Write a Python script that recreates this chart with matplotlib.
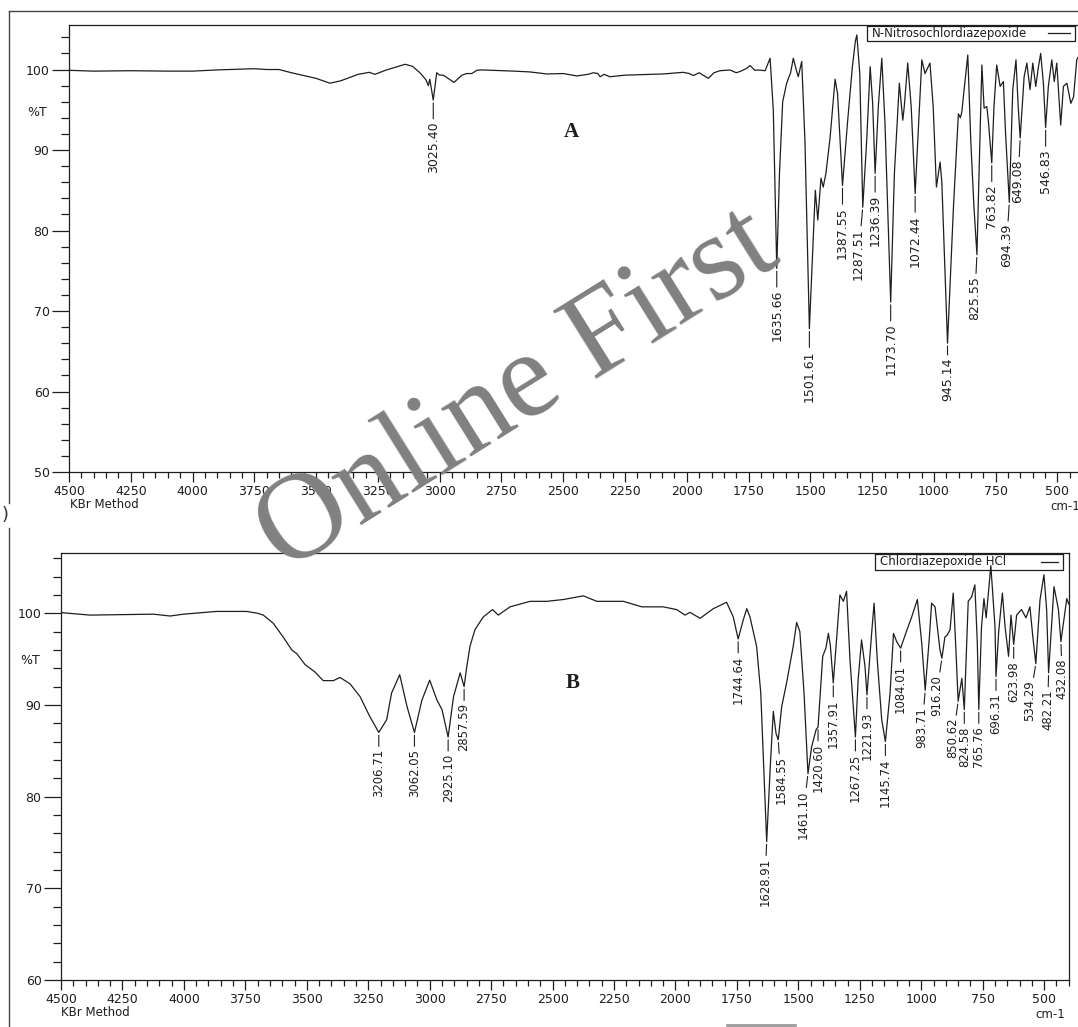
import matplotlib
matplotlib.use("Agg")
import matplotlib.pyplot as plt
from matplotlib.lines import Line2D

# ---------------- data ----------------
top_wn = [4500, 4400, 4250, 4100, 4000, 3900, 3750, 3700, 3650, 3600, 3500, 3444, 3400, 3330,
          3285, 3262, 3220, 3140, 3110, 3080, 3055, 3046, 3040, 3026, 3012, 3000, 2985, 2942,
          2910, 2891, 2870, 2850, 2830, 2700, 2635, 2567, 2500, 2445, 2400, 2378, 2360, 2351,
          2335, 2311, 2250, 2095, 2014, 1990, 1973, 1950, 1913, 1890, 1866, 1825, 1800, 1785,
          1757, 1744, 1725, 1710, 1683, 1663, 1650, 1636, 1625, 1612, 1596, 1580, 1569, 1557,
          1549, 1535, 1522, 1504, 1490, 1480, 1470, 1457, 1448, 1437, 1420, 1400, 1390, 1370,
          1350, 1330, 1318, 1312, 1300, 1288, 1272, 1258, 1248, 1238, 1225, 1211, 1198, 1175,
          1160, 1140, 1126, 1120, 1106, 1092, 1076, 1062, 1049, 1036, 1016, 1003, 990, 975,
          968, 945, 921, 901, 893, 887, 881, 863, 851, 838, 826, 816, 806, 797, 786, 780, 766,
          757, 746, 732, 719, 710, 695, 681, 668, 659, 651, 635, 624, 611, 600, 588, 577, 568,
          557, 548, 537, 523, 513, 503, 487, 476, 462, 446, 435, 422, 417]
top_T = [99.9, 99.8, 99.85, 99.8, 99.8, 99.95, 100.1, 100.0, 100.0, 99.6, 98.9, 98.3, 98.6, 99.4,
         99.65, 99.4, 99.9, 100.65, 100.4, 99.6, 98.7, 98.0, 98.8, 96.2, 99.6, 99.3, 99.3, 98.4,
         99.3, 99.5, 99.5, 99.9, 99.95, 99.8, 99.7, 99.45, 99.5, 99.2, 99.4, 99.6, 99.5, 99.1,
         99.4, 99.1, 99.3, 99.45, 99.65, 99.5, 99.25, 99.6, 98.9, 99.6, 99.85, 99.94, 99.6, 99.75,
         100.15, 100.5, 99.9, 99.94, 99.85, 101.4, 95.0, 75.3, 87.1, 96.0, 98.3, 99.6, 101.4, 99.94,
         99.1, 101.0, 91.2, 67.8, 78.0, 85.0, 81.3, 86.5, 85.4, 87.1, 91.6, 98.8, 97.0, 85.6,
         93.3, 100.35, 103.5, 104.3, 99.5, 82.9, 91.2, 100.35, 95.8, 87.1, 95.4, 101.4, 93.3, 71.1,
         87.1, 98.3, 93.7, 95.4, 100.8, 95.4, 84.6, 93.3, 101.2, 99.5, 100.8, 95.4, 85.4, 88.5,
         86.0, 66.0, 82.9, 94.5, 94.0, 94.75, 96.6, 101.8, 91.2, 82.9, 77.0, 88.7, 100.56, 95.2,
         95.4, 93.7, 88.4, 95.4, 100.56, 97.9, 98.5, 92.0, 83.5, 97.5, 101.2, 95.4, 91.5, 99.1,
         100.8, 97.5, 100.8, 97.9, 100.35, 102.0, 98.3, 92.8, 97.9, 101.2, 98.5, 100.8, 93.1,
         97.9, 98.3, 95.8, 96.6, 101.2, 101.5]

top_peak_labels = ["3025.40", "1635.66", "1501.61", "1387.55", "1287.51", "1236.39", "1173.70",
                   "1072.44", "945.14", "825.55", "763.82", "694.39", "649.08", "546.83"]
top_peak_wn = [3026, 1636, 1504, 1370, 1288, 1238, 1175, 1076, 945, 826, 766, 695, 651, 548]
top_peak_T = [96.2, 75.3, 67.8, 85.6, 82.9, 87.1, 71.1, 84.6, 66.0, 77.0, 88.4, 83.5, 91.5, 92.8]

bot_wn = [4500, 4382, 4250, 4124, 4056, 4002, 3867, 3745, 3700, 3677, 3636, 3596, 3561, 3541,
          3507, 3467, 3433, 3392, 3365, 3324, 3283, 3243, 3207, 3175, 3155, 3122, 3092, 3062,
          3032, 3000, 2970, 2950, 2925, 2903, 2876, 2860, 2849, 2836, 2816, 2782, 2744, 2721,
          2673, 2592, 2524, 2456, 2375, 2320, 2212, 2137, 2050, 1995, 1961, 1941, 1900, 1846,
          1792, 1765, 1745, 1724, 1710, 1697, 1670, 1653, 1629, 1613, 1602, 1591, 1582, 1568,
          1548, 1521, 1507, 1494, 1477, 1461, 1446, 1428, 1420, 1401, 1388, 1378, 1370, 1358,
          1344, 1331, 1317, 1304, 1290, 1268, 1257, 1243, 1229, 1221, 1202, 1192, 1179, 1161,
          1146, 1127, 1113, 1100, 1084, 1058, 1039, 1016, 998, 984, 967, 958, 944, 924, 916,
          904, 895, 883, 870, 859, 850, 835, 825, 815, 809, 795, 782, 772, 766, 755, 745, 736,
          717, 700, 696, 685, 670, 659, 645, 635, 624, 612, 592, 574, 558, 546, 534, 517, 501,
          490, 482, 469, 460, 442, 432, 408, 400]
bot_T = [100.07, 99.8, 99.85, 99.9, 99.7, 99.9, 100.2, 100.2, 100.0, 99.8, 98.9, 97.4, 96.0, 95.6,
         94.4, 93.6, 92.65, 92.65, 93.0, 92.3, 90.9, 88.7, 87.0, 88.4, 91.3, 93.3, 89.8, 87.0,
         90.5, 92.7, 90.5, 89.5, 86.5, 90.9, 93.5, 92.0, 94.2, 96.4, 98.2, 99.6, 100.4, 99.8,
         100.7, 101.3, 101.3, 101.5, 101.9, 101.3, 101.3, 100.7, 100.7, 100.4, 99.8, 100.1, 99.45, 100.5,
         101.2, 99.6, 97.2, 99.3, 100.5, 99.6, 96.4, 91.3, 75.1, 84.0, 89.3, 86.9, 86.2, 89.8,
         92.4, 96.4, 99.0, 98.0, 91.3, 82.5, 85.45, 87.3, 87.6, 95.3, 96.2, 97.8, 96.5, 92.4,
         97.4, 102.0, 101.3, 102.4, 94.9, 86.5, 92.7, 97.1, 94.2, 91.1, 97.8, 101.1, 94.9, 88.4,
         86.0, 91.3, 97.8, 96.9, 96.2, 98.2, 99.6, 101.5, 96.7, 91.6, 97.4, 101.1, 100.7, 96.0, 95.1,
         97.4, 97.6, 98.2, 102.2, 96.0, 90.4, 92.9, 89.5, 96.7, 101.3, 101.8, 103.1, 96.7, 89.5, 98.5, 101.6, 99.5,
         105.2, 98.5, 93.1, 98.0, 102.2, 98.5, 95.3, 99.8, 96.6, 99.8, 100.4, 99.5, 100.7, 97.4, 94.5, 101.45, 104.2,
         100.4, 93.5, 99.1, 102.9, 100.4, 96.9, 101.6, 101.0]

bot_peak_labels = ["3206.71", "3062.05", "2925.10", "2857.59", "1744.64", "1628.91", "1584.55",
                   "1461.10", "1420.60", "1357.91", "1267.25", "1221.93", "1145.74", "1084.01",
                   "983.71", "916.20", "850.62", "824.58", "765.76", "696.31", "623.98", "534.29",
                   "482.21", "432.08"]
bot_peak_wn = [3207, 3062, 2925, 2860, 1745, 1629, 1582, 1461, 1420, 1358, 1268, 1221, 1146, 1084,
               984, 916, 850, 825, 766, 696, 624, 534, 482, 432]
bot_peak_T = [87.0, 87.0, 86.5, 92.0, 97.2, 75.1, 86.2, 82.5, 87.6, 92.4, 86.5, 91.1, 86.0, 96.2,
              91.6, 95.1, 90.4, 89.5, 89.5, 93.1, 96.6, 94.5, 93.5, 96.9]

top_name = "N-Nitrosochlordiazepoxide"
bot_name = "Chlordiazepoxide HCl"
x_major = list(range(4500, 499, -250))

# ---------------- layout helpers ----------------
W, H = 1078, 1027
fig = plt.figure(figsize=(W / 100, H / 100), dpi=100)
fig.patch.set_facecolor("white")
INK = "#1e1e1e"
FONT = "DejaVu Sans"


def rect(l, t, r, b):
    return [l / W, 1 - b / H, (r - l) / W, (b - t) / H]


def ftext(x, y, s, **kw):
    fig.text(x / W, 1 - y / H, s, **kw)


def fline(xs, ys, **kw):
    fig.add_artist(Line2D([x / W for x in xs], [1 - y / H for y in ys],
                          transform=fig.transFigure, **kw))


def setup(ax, ylo, yhi, xright, yticks):
    ax.set_xlim(4500, xright)
    ax.set_ylim(ylo, yhi)
    ax.set_xticks(x_major)
    ax.set_xticks(list(range(4500, int(xright), -50)), minor=True)
    ax.set_yticks(yticks)
    ax.set_yticks([v for v in range(ylo, int(yhi) + 1, 2)], minor=True)
    ax.tick_params(axis="x", which="major", direction="out", length=7.2, width=0.9,
                   pad=2, labelsize=9, colors=INK)
    ax.tick_params(axis="x", which="minor", direction="out", length=4.3, width=0.9, colors=INK)
    ax.tick_params(axis="y", which="major", direction="out", length=12, width=0.9,
                   pad=2, labelsize=9, colors=INK)
    ax.tick_params(axis="y", which="minor", direction="out", length=5.8, width=0.9, colors=INK)
    for s in ax.spines.values():
        s.set_color(INK)
        s.set_linewidth(0.9)
    for lab in ax.get_xticklabels() + ax.get_yticklabels():
        lab.set_family(FONT)


def label_peaks(ax, wns, Ts, labels, gap, size, dx, dgap):
    for w, t, s in zip(wns, Ts, labels):
        ax.annotate(s, xy=(w, t), xytext=(dx.get(s, 0), -gap + dgap.get(s, 0)),
                    textcoords="offset points",
                    rotation=90, ha="center", va="top", fontsize=size, family=FONT, color=INK,
                    arrowprops=dict(arrowstyle="-", lw=0.8, color=INK, shrinkA=0, shrinkB=2))


# ---------------- top panel ----------------
ax1 = fig.add_axes(rect(69, 25, 1078, 472))
ax1.plot(top_wn, top_T, color=INK, lw=0.9)
setup(ax1, 50, 105.53, 417, [50, 60, 70, 80, 90, 100])
ax1.spines["right"].set_visible(False)
top_dx = {"1287.51": -3, "825.55": -1.5, "694.39": -2, "649.08": -1.5}
top_dgap = {"945.14": 5}
label_peaks(ax1, top_peak_wn, top_peak_T, top_peak_labels, 15.5, 9, top_dx, top_dgap)
ax1.text(0.498, 0.76, "A", transform=ax1.transAxes, fontsize=15, fontweight="bold",
         family="Liberation Serif", ha="center", va="center", color=INK)

# ---------------- bottom panel ----------------
ax2 = fig.add_axes(rect(61, 553.3, 1069, 980))
ax2.plot(bot_wn, bot_T, color=INK, lw=0.9)
setup(ax2, 60, 106.54, 399, [60, 70, 80, 90, 100])
bot_dx = {"1628.91": -1.2, "1584.55": 2, "1461.10": -3.5, "983.71": -2.2, "916.20": -4,
          "850.62": -3.6, "534.29": -4.3, "482.21": -0.7, "432.08": 1}
label_peaks(ax2, bot_peak_wn, bot_peak_T, bot_peak_labels, 12, 8.4, bot_dx, {})
ax2.text(0.508, 0.697, "B", transform=ax2.transAxes, fontsize=15, fontweight="bold",
         family="Liberation Serif", ha="center", va="center", color=INK)

# ---------------- legends (boxed names with line sample) ----------------
for (l, t, r, b, name, ly0, ly1, fs) in [
        (866.5, 25.5, 1075, 40.5, top_name, 1048, 1070, 8.5),
        (875, 553.5, 1063, 569.5, bot_name, 1041, 1058, 8.5)]:
    fline([l, r, r, l, l], [t, t, b, b, t], color=INK, lw=0.9)
    ftext(l + 5, (t + b) / 2 + 0.5, name, fontsize=fs, family=FONT, ha="left", va="center",
          color=INK)
    fline([ly0, ly1], [(t + b) / 2, (t + b) / 2], color=INK, lw=0.9)

# ---------------- axis captions ----------------
ftext(37, 112, "%T", fontsize=9, family=FONT, ha="center", va="center", color=INK)
ftext(30, 660, "%T", fontsize=9, family=FONT, ha="center", va="center", color=INK)
ftext(70, 504, "KBr Method", fontsize=8.5, family=FONT, ha="left", va="center", color=INK)
ftext(61, 1013, "KBr Method", fontsize=8.5, family=FONT, ha="left", va="center", color=INK)
ftext(1050, 506, "cm-1", fontsize=8.5, family=FONT, ha="left", va="center", color=INK)
ftext(1035, 1014, "cm-1", fontsize=8.5, family=FONT, ha="left", va="center", color=INK)

# ---------------- outer frames ----------------
fline([9, 1078], [11, 11], color="#444444", lw=1.0)
fline([9, 9], [11, 503], color="#444444", lw=1.0)
fline([9, 9], [528, 1027], color="#444444", lw=1.0)
fline([727, 795], [1025, 1025], color="#9a9a9a", lw=2.0)
ftext(2, 515, ")", fontsize=13, family=FONT, ha="left", va="center", color="#333333")

# ---------------- watermark ----------------
ftext(518, 392, "Online First", fontsize=88, family="Liberation Serif", rotation=32,
      ha="center", va="center", color="#808080", zorder=10)

fig.savefig("out.png", dpi=100, facecolor="white")
